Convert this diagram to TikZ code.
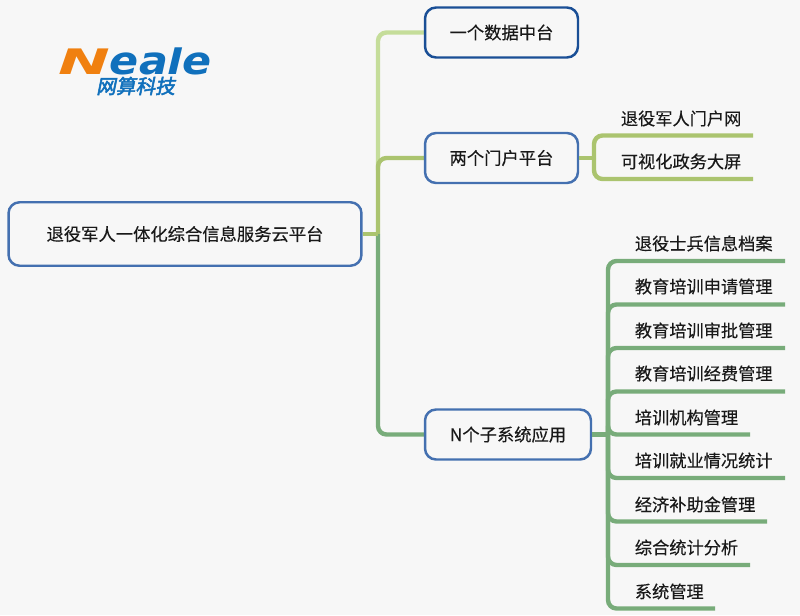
\documentclass[tikz,border=0pt]{standalone}
\usepackage{fontspec}
\usepackage{xcolor}
\setmainfont[FakeBold=0.3]{Noto Sans CJK SC}
\newfontfamily\logofont{DejaVu Sans Bold Oblique}
\newfontfamily\logocjk[FakeSlant=0.2,FakeBold=2.5]{Noto Sans CJK SC}
\definecolor{paper}{HTML}{F7F7F7}
\definecolor{boxdark}{HTML}{1A4F96}
\definecolor{boxblue}{HTML}{4470B0}
\definecolor{lightline}{HTML}{C5DD9A}
\definecolor{midline}{HTML}{ABC46F}
\definecolor{greenline}{HTML}{78AC7A}
\definecolor{logoorange}{HTML}{F08010}
\definecolor{logoblue}{HTML}{1070BC}
\tikzset{
	hub/.style={draw=boxblue, line width=1.4pt, rounded corners=0.22cm, fill=paper, text=black!90, font=\fontsize{9.85}{12}\selectfont, minimum height=1cm, inner sep=0pt},
	leaf/.style={anchor=west, text=black!90, font=\fontsize{9.8}{12}\selectfont, inner sep=0pt},
	branch/.style={line width=2.5pt, rounded corners=0.17cm},
}
\begin{document}
\begin{tikzpicture}[x=0.02cm, y=-0.02cm]
	\useasboundingbox[fill=paper] (0,0) rectangle (800,615);

	% logo
	\node[inner sep=0pt, font=\logofont\fontsize{20}{22}\selectfont] (logo) at (135,61) {\textcolor{logoorange}{\scalebox{1.76}[1]{N}}\textcolor{logoblue}{\scalebox{1.22}[1.1]{ea}\scalebox{1.22}[1]{l}\scalebox{1.22}[1.1]{e}}};
	\node[inner sep=0pt, text=logoblue, font=\logocjk\fontsize{11.2}{12}\selectfont] (logosub) at (135.5,86) {网算科技};

	\coordinate (trunk) at (378,234);
	\coordinate (portalhub) at (594,158);
	\coordinate (syshub) at (608,434.5);

	% first level branches, drawn below the boxes
	\coordinate (dataend) at (430,32.5);
	\coordinate (portalend) at (430,158);
	\coordinate (sysend) at (430,434.5);
	\draw[branch, lightline] (378,170) |- (dataend);
	\draw[branch, midline] (trunk) |- (portalend);
	\draw[branch, greenline] (trunk) |- (sysend);

	\node[hub, minimum width=7.06cm, minimum height=1.27cm] (root) at (185,234) {退役军人一体化综合信息服务云平台};
	\node[hub, draw=boxdark, minimum width=3.06cm] (data) at (501.5,32.5) {一个数据中台};
	\node[hub, minimum width=3.06cm] (portal) at (501.5,158) {两个门户平台};
	\node[hub, minimum width=3.32cm] (sys) at (508,434.5) {N个子系统应用};
	\draw[branch, midline] (root.east) -- (trunk);

	% portal leaves
	\node[leaf] (web) at (620.5,118.5) {退役军人门户网};
	\node[leaf] (screen) at (620.5,161.5) {可视化政务大屏};
	\coordinate (webend) at (753,135.5);
	\coordinate (screenend) at (753,179);
	\draw[branch, midline] (portal.east) -- (portalhub);
	\draw[branch, midline] (portalhub) |- (webend);
	\draw[branch, midline] (portalhub) |- (screenend);

	% system leaves
	\draw[branch, greenline] (sys.east) -- (syshub);
	\foreach \name/\ytext/\yline/\xend/\txt in {
		archive/243.5/261/785/退役士兵信息档案,
		apply/286.5/304.5/785/教育培训申请管理,
		approve/330.5/348/785/教育培训审批管理,
		fees/373.5/391.5/785/教育培训经费管理,
		org/417.5/434.5/750/培训机构管理,
		jobs/460.5/478/785/培训就业情况统计,
		subsidy/504.5/521.5/767/经济补助金管理,
		stats/547.5/565/750/综合统计分析,
		admin/591.5/608.5/715/系统管理}{
		\node[leaf] (\name) at (634.5,\ytext) {\txt};
		\coordinate (\name end) at (\xend,\yline);
		\draw[branch, greenline] (syshub) |- (\name end);
	}
\end{tikzpicture}
\end{document}
